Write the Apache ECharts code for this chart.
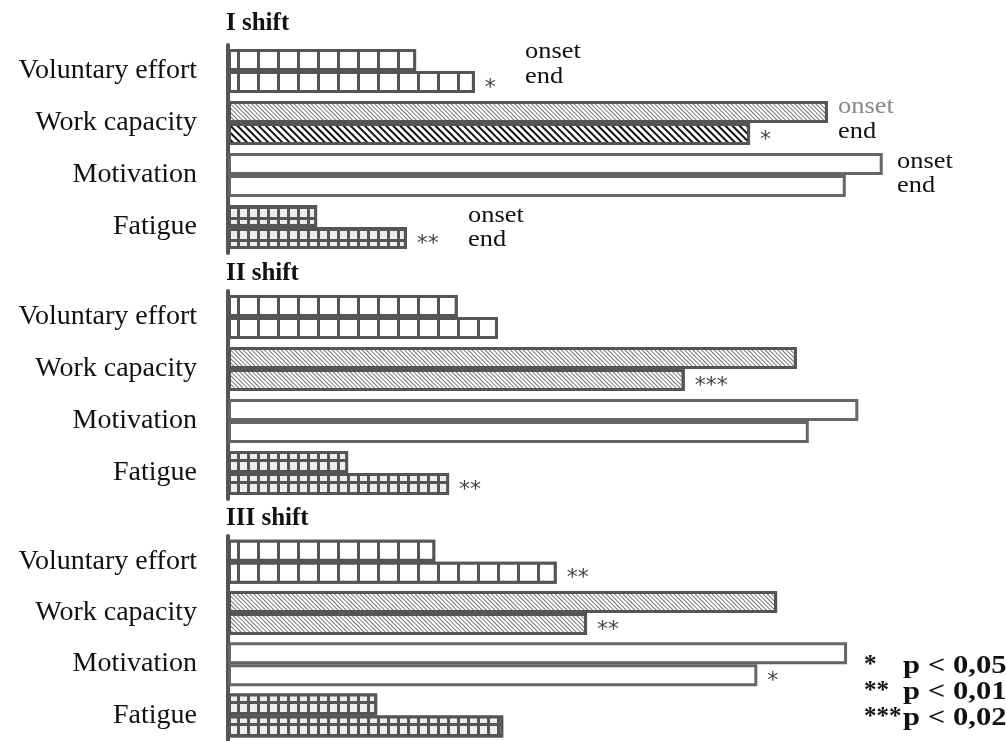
<!DOCTYPE html>
<html><head><meta charset="utf-8">
<script src="https://cdn.jsdelivr.net/npm/echarts@6/dist/echarts.min.js"></script>
<style>html,body{margin:0;padding:0;background:#fff}#c{width:1006px;height:741px}</style>
</head><body><div id="c"></div>
<script>
// ---- data ----
const categories = ['Voluntary effort', 'Work capacity', 'Motivation', 'Fatigue'];
const panelTitles = ['I shift', 'II shift', 'III shift'];
const onsetI   = [28.5, 90.9, 99.2, 13.5];
const endI     = [37.4, 79.1, 93.6, 27.1];
const onsetII  = [34.8, 86.2, 95.5, 18.2];
const endII    = [40.9, 69.2, 88.0, 33.5];
const onsetIII = [31.4, 83.2, 93.8, 22.6];
const endIII   = [49.8, 54.4, 80.2, 41.7];
const starsI   = ['*', '*', '', '**'];
const starsII  = ['', '***', '', '**'];
const starsIII = ['**', '**', '*', ''];
const phaseWords = ['onset', 'end'];
const pStars = ['*', '**', '***'];
const pTexts = ['p < 0,05', 'p < 0,01', 'p < 0,02'];

// ---- layout / styles ----
const panels = [
  { onset: onsetI, end: endI, stars: starsI },
  { onset: onsetII, end: endII, stars: starsII },
  { onset: onsetIII, end: endIII, stars: starsIII }
];
const gridTops = [45, 291, 536];
const titleTops = [11, 261, 506];
const BORDER = '#555';
const SERIF = 'Liberation Serif';

function styleFor(ci, p, isEnd) {
  const base = { borderColor: BORDER, borderWidth: 3 };
  if (ci === 0) return Object.assign(base, { color: '#555', decal: { symbol: 'rect', symbolSize: 1, symbolKeepAspect: false, color: '#fff', dashArrayX: [17, 3], dashArrayY: [1, 0] } });
  if (ci === 1) {
    const dark = (p === 0 && isEnd);
    return Object.assign(base, { color: '#fff', decal: { symbol: 'rect', symbolSize: 1, symbolKeepAspect: false, color: dark ? '#111' : '#777', dashArrayX: [1, 0], dashArrayY: dark ? [2, 3] : [1, 2], rotation: Math.PI / 4 } });
  }
  if (ci === 2) return Object.assign(base, { color: '#fff', borderColor: '#666' });
  return Object.assign(base, { color: '#555', decal: { symbol: 'rect', symbolSize: 1, symbolKeepAspect: false, color: '#eee', dashArrayX: [7, 3], dashArrayY: [8, 3] } });
}

const grid = [], xAxis = [], yAxis = [], series = [], title = [];
panels.forEach((pd, p) => {
  grid.push({ left: 228, top: gridTops[p], width: 660, height: 208 });
  xAxis.push({ type: 'value', gridIndex: p, min: 0, max: 100, show: false });
  yAxis.push({
    type: 'category', gridIndex: p, data: categories, inverse: true,
    axisLine: { show: true, lineStyle: { color: '#555', width: 4 } },
    axisTick: { show: false }, splitLine: { show: false },
    axisLabel: { fontFamily: SERIF, fontSize: 28, color: '#111', margin: 31, padding: [4, 0, 0, 0] }
  });
  title.push({ text: panelTitles[p], left: 226, top: titleTops[p], padding: 0,
    textStyle: { fontFamily: SERIF, fontWeight: 'bold', fontSize: 25, color: '#111' } });
  ['onset', 'end'].forEach((key, k) => {
    series.push({
      type: 'bar', name: key, xAxisIndex: p, yAxisIndex: p,
      barWidth: 22, barGap: '0%', animation: false, silent: true,
      data: pd[key].map((v, i) => ({
        value: v,
        itemStyle: styleFor(i, p, k === 1),
        label: (k === 1 && pd.stars[i]) ? {
          show: true, position: 'right', distance: 10, formatter: pd.stars[i],
          fontFamily: 'DejaVu Sans', fontSize: 22, color: '#444', offset: [0, 6]
        } : { show: false }
      }))
    });
  });
});

// onset / end words (panel I) and significance legend
const wordPos = [[525, 52, 77], [838, 107, 132], [897, 162, 186], [468, 216, 240]];
const graphic = [];
wordPos.forEach((wp, i) => {
  phaseWords.forEach((w, k) => {
    graphic.push({ type: 'text', x: wp[0], y: wp[1 + k], scaleX: 1.1,
      style: { text: w, font: '24px "' + SERIF + '"', fill: (i === 1 && k === 0) ? '#888' : '#111', verticalAlign: 'middle' } });
  });
});
pStars.forEach((s, i) => {
  graphic.push({ type: 'text', x: 864, y: 666 + i * 26,
    style: { text: s, font: 'bold 25px "' + SERIF + '"', fill: '#111', verticalAlign: 'middle' } });
  graphic.push({ type: 'text', x: 903, y: 666 + i * 26, scaleX: 1.18,
    style: { text: pTexts[i], font: 'bold 26px "' + SERIF + '"', fill: '#111', verticalAlign: 'middle' } });
});

const chart = echarts.init(document.getElementById('c'), null, { renderer: 'canvas' });
chart.setOption({ backgroundColor: '#fff', animation: false, title, grid, xAxis, yAxis, series, graphic });
</script></body></html>
